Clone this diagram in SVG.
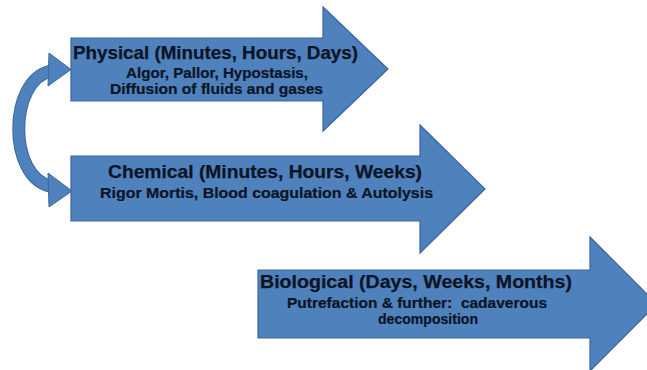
<svg xmlns="http://www.w3.org/2000/svg" width="647" height="370" viewBox="0 0 647 370">
  <style>
    .arrow { fill: #4F81BD; stroke: #3A66A0; stroke-width: 1.2; stroke-linejoin: miter; }
    .t1 { font-family: "Liberation Sans", Arial, sans-serif; font-weight: bold; font-size: 18.5px; fill: #0B1424; stroke: #0B1424; stroke-width: 0.25; text-anchor: middle; }
    .t2 { font-family: "Liberation Sans", Arial, sans-serif; font-weight: bold; font-size: 14px; fill: #0B1424; stroke: #0B1424; stroke-width: 0.2; text-anchor: middle; }
    .shaft-o { fill: none; stroke: #3A66A0; stroke-width: 13; }
    .shaft { fill: none; stroke: #4F81BD; stroke-width: 11; }
    .head { fill: #4F81BD; stroke: #3A66A0; stroke-width: 1; }
  </style>
  <rect width="647" height="370" fill="#FFFFFF"/>

  <g id="connectors">
    <path class="shaft-o" d="M 51 71 C 8 80, 8 178, 51 186"/>
    <path class="shaft" d="M 51 71 C 8 80, 8 178, 51 186"/>
    <polygon class="head" points="49,53 71,69.5 48,86"/>
    <polygon class="head" points="48,173 72,191 49,207"/>
  </g>

  <g id="physical">
    <polygon class="arrow" points="71,38 323,38 323,7 388,69 323,131 323,101 71,101"/>
    <text class="t1" x="215.5" y="58.5" textLength="285" lengthAdjust="spacingAndGlyphs">Physical (Minutes, Hours, Days)</text>
    <text class="t2" x="217" y="77.5" textLength="182" lengthAdjust="spacingAndGlyphs">Algor, Pallor, Hypostasis,</text>
    <text class="t2" x="216.5" y="93.5" textLength="213" lengthAdjust="spacingAndGlyphs">Diffusion of fluids and gases</text>
  </g>

  <g id="chemical">
    <polygon class="arrow" points="71,156 420,156 420,125 485,189 420,253 420,221 71,221"/>
    <text class="t1" x="265" y="178.3" textLength="314" lengthAdjust="spacingAndGlyphs">Chemical (Minutes, Hours, Weeks)</text>
    <text class="t2" x="266.5" y="198.3" textLength="333" lengthAdjust="spacingAndGlyphs">Rigor Mortis, Blood coagulation &amp; Autolysis</text>
  </g>

  <g id="biological">
    <polygon class="arrow" points="258,270 590,270 590,237 657,304 590,371 590,338 258,338"/>
    <text class="t1" x="416" y="287.7" textLength="312" lengthAdjust="spacingAndGlyphs">Biological (Days, Weeks, Months)</text>
    <text class="t2" x="417" y="307.7" textLength="260" lengthAdjust="spacingAndGlyphs">Putrefaction &amp; further:&#160; cadaverous</text>
    <text class="t2" x="428" y="324.3" textLength="100" lengthAdjust="spacingAndGlyphs">decomposition</text>
  </g>
</svg>
